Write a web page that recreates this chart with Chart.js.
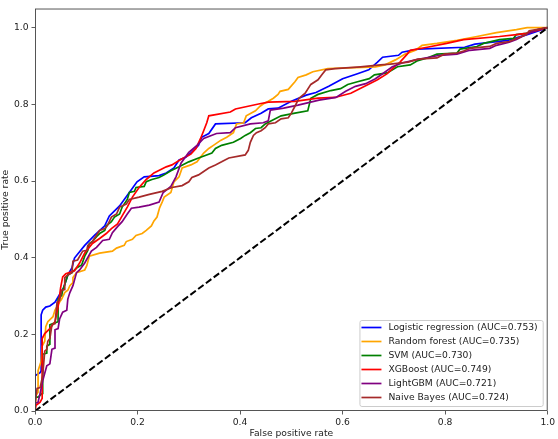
<!DOCTYPE html>
<html>
<head>
<meta charset="utf-8">
<script src="https://cdn.jsdelivr.net/npm/chart.js@4.4.1/dist/chart.umd.min.js"></script>
<style>
  html, body { margin: 0; padding: 0; background: #fff; }
  #wrap { width: 558px; height: 439px; }
</style>
</head>
<body>
<div id="wrap"><canvas id="rocChart"></canvas></div>
<script>
// model names, colours and AUC shown in the legend
const modelNames = ["Logistic regression", "Random forest", "SVM", "XGBoost", "LightGBM", "Naive Bayes"]
const modelColors = ["#0000ff", "#ffa500", "#008000", "#ff0000", "#800080", "#a52a2a"]
const aucValues = [0.753, 0.735, 0.730, 0.749, 0.721, 0.724]

// ROC points (false positive rate / true positive rate)
const lrFpr = [0, 0, 0.010, 0.012, 0.012, 0.015, 0.021, 0.029, 0.039, 0.048, 0.056, 0.064, 0.072, 0.077, 0.097, 0.116, 0.136, 0.145, 0.165, 0.184, 0.199, 0.213, 0.242, 0.256, 0.271, 0.281, 0.294, 0.304, 0.319, 0.325, 0.339, 0.352, 0.410, 0.422, 0.441, 0.455, 0.474, 0.500, 0.529, 0.548, 0.573, 0.600, 0.629, 0.651, 0.668, 0.678, 0.709, 0.716, 0.747, 0.838, 0.858, 0.922, 0.960, 0.989, 1]
const lrTpr = [0, 0.092, 0.100, 0.105, 0.251, 0.263, 0.271, 0.274, 0.284, 0.304, 0.322, 0.355, 0.373, 0.399, 0.432, 0.458, 0.483, 0.509, 0.535, 0.570, 0.598, 0.611, 0.614, 0.621, 0.634, 0.655, 0.662, 0.673, 0.693, 0.714, 0.724, 0.749, 0.752, 0.765, 0.777, 0.788, 0.790, 0.808, 0.824, 0.831, 0.847, 0.867, 0.880, 0.890, 0.910, 0.923, 0.928, 0.936, 0.944, 0.949, 0.957, 0.967, 0.982, 0.995, 1]

const rfFpr = [0, 0.002, 0.006, 0.006, 0.012, 0.014, 0.019, 0.021, 0.025, 0.035, 0.039, 0.048, 0.052, 0.058, 0.064, 0.068, 0.074, 0.074, 0.081, 0.097, 0.101, 0.106, 0.126, 0.151, 0.159, 0.174, 0.178, 0.190, 0.197, 0.209, 0.217, 0.227, 0.232, 0.238, 0.243, 0.248, 0.252, 0.265, 0.271, 0.281, 0.287, 0.304, 0.316, 0.329, 0.339, 0.348, 0.362, 0.374, 0.387, 0.393, 0.407, 0.412, 0.430, 0.439, 0.445, 0.455, 0.465, 0.474, 0.478, 0.494, 0.507, 0.513, 0.529, 0.542, 0.571, 0.664, 0.683, 0.703, 0.722, 0.742, 0.755, 0.784, 0.823, 0.862, 0.900, 0.939, 0.960, 1]
const rfTpr = [0, 0.041, 0.049, 0.105, 0.130, 0.169, 0.182, 0.220, 0.233, 0.246, 0.263, 0.284, 0.292, 0.309, 0.315, 0.327, 0.335, 0.348, 0.361, 0.368, 0.379, 0.404, 0.412, 0.417, 0.425, 0.432, 0.442, 0.448, 0.458, 0.463, 0.471, 0.483, 0.496, 0.506, 0.530, 0.545, 0.558, 0.570, 0.598, 0.611, 0.634, 0.642, 0.650, 0.673, 0.685, 0.693, 0.706, 0.714, 0.726, 0.749, 0.752, 0.770, 0.783, 0.795, 0.801, 0.808, 0.816, 0.826, 0.834, 0.839, 0.859, 0.870, 0.877, 0.885, 0.893, 0.898, 0.903, 0.916, 0.931, 0.941, 0.954, 0.959, 0.967, 0.977, 0.987, 0.995, 1.0, 1]

const svmFpr = [0, 0, 0.006, 0.014, 0.015, 0.023, 0.023, 0.029, 0.029, 0.035, 0.045, 0.045, 0.052, 0.054, 0.058, 0.064, 0.072, 0.081, 0.091, 0.097, 0.103, 0.106, 0.112, 0.120, 0.126, 0.136, 0.139, 0.149, 0.155, 0.165, 0.170, 0.180, 0.184, 0.194, 0.197, 0.213, 0.217, 0.228, 0.242, 0.252, 0.265, 0.281, 0.300, 0.319, 0.345, 0.352, 0.364, 0.387, 0.401, 0.410, 0.420, 0.430, 0.441, 0.449, 0.461, 0.480, 0.507, 0.532, 0.538, 0.552, 0.577, 0.596, 0.610, 0.629, 0.652, 0.662, 0.687, 0.707, 0.732, 0.745, 0.765, 0.784, 0.823, 0.829, 0.862, 0.875, 0.906, 0.933, 0.939, 0.958, 0.972, 1]
const svmTpr = [0, 0.036, 0.036, 0.046, 0.148, 0.151, 0.169, 0.174, 0.225, 0.228, 0.233, 0.292, 0.302, 0.315, 0.330, 0.355, 0.361, 0.373, 0.381, 0.404, 0.419, 0.437, 0.442, 0.455, 0.463, 0.471, 0.483, 0.494, 0.506, 0.514, 0.532, 0.552, 0.570, 0.573, 0.583, 0.586, 0.598, 0.604, 0.609, 0.616, 0.627, 0.637, 0.650, 0.660, 0.673, 0.685, 0.693, 0.701, 0.711, 0.719, 0.726, 0.737, 0.739, 0.749, 0.757, 0.770, 0.777, 0.783, 0.816, 0.826, 0.836, 0.841, 0.852, 0.859, 0.867, 0.877, 0.882, 0.898, 0.903, 0.913, 0.921, 0.931, 0.934, 0.944, 0.951, 0.959, 0.969, 0.972, 0.982, 0.985, 0.992, 1]

const xgbFpr = [0, 0.002, 0.010, 0.014, 0.014, 0.019, 0.029, 0.039, 0.045, 0.050, 0.054, 0.060, 0.077, 0.087, 0.097, 0.112, 0.126, 0.139, 0.149, 0.161, 0.170, 0.180, 0.190, 0.203, 0.217, 0.232, 0.256, 0.267, 0.285, 0.304, 0.314, 0.323, 0.329, 0.335, 0.339, 0.381, 0.391, 0.436, 0.455, 0.507, 0.552, 0.585, 0.616, 0.643, 0.668, 0.687, 0.701, 0.712, 0.726, 0.732, 0.765, 0.803, 0.836, 0.906, 0.939, 0.958, 0.978, 1]
const xgbTpr = [0, 0.015, 0.023, 0.033, 0.189, 0.202, 0.215, 0.233, 0.271, 0.322, 0.350, 0.358, 0.366, 0.386, 0.412, 0.437, 0.450, 0.463, 0.476, 0.488, 0.509, 0.532, 0.558, 0.583, 0.604, 0.621, 0.637, 0.642, 0.657, 0.670, 0.685, 0.711, 0.731, 0.752, 0.770, 0.780, 0.788, 0.801, 0.806, 0.808, 0.816, 0.818, 0.829, 0.847, 0.864, 0.880, 0.898, 0.910, 0.931, 0.941, 0.949, 0.959, 0.969, 0.977, 0.982, 0.985, 0.992, 1]

const lgbFpr = [0, 0, 0.006, 0.010, 0.015, 0.023, 0.029, 0.033, 0.039, 0.039, 0.045, 0.048, 0.054, 0.062, 0.064, 0.068, 0.074, 0.081, 0.087, 0.097, 0.110, 0.120, 0.132, 0.145, 0.151, 0.161, 0.170, 0.180, 0.188, 0.203, 0.223, 0.242, 0.250, 0.265, 0.275, 0.285, 0.300, 0.316, 0.329, 0.354, 0.381, 0.391, 0.420, 0.445, 0.455, 0.459, 0.485, 0.513, 0.554, 0.587, 0.606, 0.625, 0.645, 0.664, 0.678, 0.697, 0.716, 0.742, 0.761, 0.790, 0.823, 0.848, 0.887, 0.900, 0.925, 0.939, 0.958, 0.980, 1]
const lgbTpr = [0, 0.020, 0.023, 0.046, 0.079, 0.118, 0.123, 0.161, 0.164, 0.212, 0.215, 0.240, 0.258, 0.263, 0.292, 0.309, 0.327, 0.361, 0.368, 0.386, 0.417, 0.427, 0.445, 0.448, 0.465, 0.481, 0.494, 0.514, 0.529, 0.532, 0.537, 0.545, 0.570, 0.586, 0.611, 0.647, 0.675, 0.693, 0.711, 0.724, 0.726, 0.739, 0.749, 0.752, 0.757, 0.785, 0.790, 0.798, 0.811, 0.818, 0.834, 0.847, 0.854, 0.867, 0.880, 0.898, 0.908, 0.916, 0.921, 0.928, 0.931, 0.941, 0.946, 0.954, 0.962, 0.969, 0.982, 0.995, 1]

const nbFpr = [0, 0, 0.004, 0.010, 0.015, 0.019, 0.023, 0.025, 0.029, 0.033, 0.039, 0.043, 0.048, 0.052, 0.058, 0.058, 0.064, 0.072, 0.074, 0.083, 0.093, 0.101, 0.103, 0.112, 0.122, 0.126, 0.136, 0.141, 0.149, 0.159, 0.165, 0.178, 0.184, 0.203, 0.223, 0.248, 0.267, 0.287, 0.300, 0.306, 0.319, 0.339, 0.352, 0.364, 0.378, 0.410, 0.416, 0.420, 0.426, 0.432, 0.441, 0.449, 0.455, 0.469, 0.480, 0.494, 0.500, 0.507, 0.515, 0.527, 0.538, 0.552, 0.561, 0.567, 0.585, 0.635, 0.674, 0.693, 0.728, 0.747, 0.784, 0.798, 0.823, 0.836, 0.848, 0.887, 0.900, 0.925, 0.939, 0.958, 0.964, 0.978, 1]
const nbTpr = [0, 0.015, 0.059, 0.061, 0.092, 0.156, 0.161, 0.182, 0.189, 0.225, 0.228, 0.284, 0.289, 0.315, 0.317, 0.348, 0.355, 0.361, 0.391, 0.394, 0.417, 0.419, 0.432, 0.442, 0.463, 0.471, 0.476, 0.483, 0.506, 0.514, 0.532, 0.540, 0.552, 0.558, 0.565, 0.573, 0.583, 0.588, 0.598, 0.609, 0.616, 0.634, 0.642, 0.650, 0.660, 0.668, 0.680, 0.701, 0.719, 0.726, 0.731, 0.739, 0.749, 0.752, 0.762, 0.765, 0.777, 0.795, 0.816, 0.829, 0.852, 0.864, 0.880, 0.890, 0.893, 0.898, 0.903, 0.905, 0.910, 0.918, 0.921, 0.931, 0.934, 0.939, 0.946, 0.951, 0.959, 0.964, 0.972, 0.982, 0.992, 0.995, 1]

// chance line
const chanceX = [0, 1]
const chanceY = [0, 1]

const xTicks = [0, 0.2, 0.4, 0.6, 0.8, 1.0]
const yTicks = [0, 0.2, 0.4, 0.6, 0.8, 1.0]

const curves = [[lrFpr, lrTpr], [rfFpr, rfTpr], [svmFpr, svmTpr], [xgbFpr, xgbTpr], [lgbFpr, lgbTpr], [nbFpr, nbTpr]]
const toPoints = (xs, ys) => xs.map((x, i) => ({ x, y: ys[i] }))

const FONT = "'DejaVu Sans', sans-serif"
const FONT_SIZE = 9.2
const TEXT_COLOR = "#222"
const LINE_W = 1.7

const datasets = curves.map(([xs, ys], i) => ({
  label: `${modelNames[i]} (AUC=${aucValues[i].toFixed(3)})`,
  data: toPoints(xs, ys),
  borderColor: modelColors[i],
  borderWidth: LINE_W,
  showLine: true,
  pointRadius: 0,
  fill: false,
  tension: 0,
  // matplotlib draws later lines on top; lower order is drawn last in Chart.js
  order: curves.length - i
}))
datasets.push({
  label: "chance",
  data: toPoints(chanceX, chanceY),
  borderColor: "#000",
  borderWidth: 2,
  borderDash: [6.8, 2.9],
  showLine: true,
  pointRadius: 0,
  fill: false,
  order: 0
})

// frame around the axes and the legend box in the lower right corner
const frameAndLegend = {
  id: "frameAndLegend",
  afterDatasetsDraw(chart) {
    const { ctx, chartArea: a } = chart
    ctx.save()
    ctx.strokeStyle = "#444"
    ctx.lineWidth = 0.9
    ctx.strokeRect(a.left + 0.5, a.top + 0.5, a.right - a.left - 1, a.bottom - a.top - 1)

    ctx.font = `${FONT_SIZE}px ${FONT}`
    const labels = datasets.slice(0, modelNames.length).map(d => d.label)
    const textW = Math.max(...labels.map(l => ctx.measureText(l).width))
    const rowH = 14
    const boxW = 29 + textW + 5
    const boxH = rowH * labels.length + 2
    const x0 = a.right - 5 - boxW
    const y0 = a.bottom - 5 - boxH

    ctx.fillStyle = "rgba(255,255,255,0.8)"
    ctx.strokeStyle = "#cccccc"
    ctx.lineWidth = 1
    ctx.beginPath()
    ctx.roundRect(x0 + 0.5, y0 + 0.5, boxW, boxH, 2)
    ctx.fill()
    ctx.stroke()

    ctx.textBaseline = "middle"
    ctx.textAlign = "left"
    labels.forEach((label, i) => {
      const y = y0 + 7.5 + i * rowH
      ctx.strokeStyle = modelColors[i]
      ctx.lineWidth = LINE_W
      ctx.beginPath()
      ctx.moveTo(x0 + 2, y)
      ctx.lineTo(x0 + 22, y)
      ctx.stroke()
      ctx.fillStyle = TEXT_COLOR
      ctx.fillText(label, x0 + 29, y + 0.5)
    })
    ctx.restore()
  }
}

const axisCommon = {
  type: "linear",
  grid: { drawOnChartArea: false, drawTicks: true, tickLength: 3.5, color: "#333", lineWidth: 0.8 },
  border: { display: false },
  ticks: {
    padding: 3,
    color: TEXT_COLOR,
    font: { family: FONT, size: FONT_SIZE },
    callback: v => Number(v).toFixed(1)
  }
}

new Chart(document.getElementById("rocChart"), {
  type: "scatter",
  data: { datasets },
  options: {
    responsive: true,
    maintainAspectRatio: false,
    animation: false,
    layout: { padding: { top: 1, right: 7, left: 0, bottom: 0 } },
    plugins: {
      legend: { display: false },
      tooltip: { enabled: false }
    },
    scales: {
      x: {
        ...axisCommon,
        min: 0,
        max: 1,
        afterBuildTicks: s => { s.ticks = xTicks.map(value => ({ value })) },
        afterFit: s => { s.height = 28 },
        title: { display: true, text: "False positive rate", color: TEXT_COLOR, font: { family: FONT, size: FONT_SIZE }, padding: { top: 0, bottom: 0 } }
      },
      y: {
        ...axisCommon,
        min: 0,
        max: 1.05,
        afterBuildTicks: s => { s.ticks = yTicks.map(value => ({ value })) },
        afterFit: s => { s.width = 35 },
        title: { display: true, text: "True positive rate", color: TEXT_COLOR, font: { family: FONT, size: FONT_SIZE }, padding: { top: 0, bottom: 0 } }
      }
    }
  },
  plugins: [frameAndLegend]
})
</script>
</body>
</html>
